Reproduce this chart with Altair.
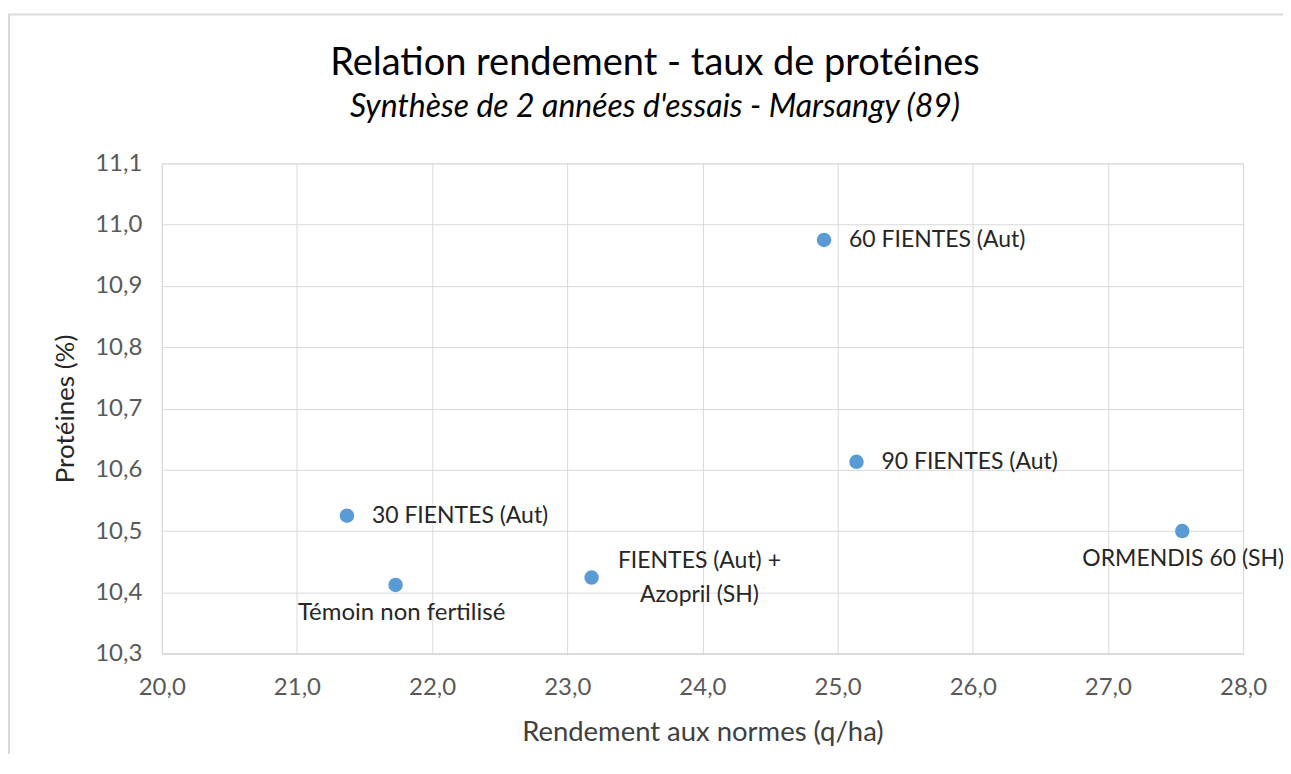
import altair as alt
import pandas as pd

names = ["60 FIENTES (Aut)", "90 FIENTES (Aut)", "30 FIENTES (Aut)",
         "Témoin non fertilisé", "FIENTES (Aut) +\nAzopril (SH)", "ORMENDIS 60 (SH)"]
rendement = [24.90, 25.14, 21.37, 21.73, 23.18, 27.55]
proteines = [10.975, 10.613, 10.525, 10.412, 10.424, 10.500]
position = ["right", "right", "right", "below", "right2", "below_edge"]

x_ticks = [20, 21, 22, 23, 24, 25, 26, 27, 28]
y_ticks = [10.3, 10.4, 10.5, 10.6, 10.7, 10.8, 10.9, 11.0, 11.1]

title_text = "Relation rendement - taux de protéines"
subtitle_text = "Synthèse de 2 années d'essais - Marsangy (89)"

df = pd.DataFrame({"name": names, "x": rendement, "y": proteines, "pos": position})
tdf = pd.DataFrame({"t": [title_text], "s": [subtitle_text]})

FONT = "Lato"
label_expr = "replace(format(datum.value, '.1f'), '.', ',')"

xenc = alt.X("x:Q", scale=alt.Scale(domain=[20, 28], nice=False, zero=False),
             axis=alt.Axis(values=x_ticks, labelExpr=label_expr, title="Rendement aux normes (q/ha)",
                           grid=True, gridColor="#d9d9d9", domain=True, domainColor="#d9d9d9",
                           domainWidth=1.5, ticks=False, labelPadding=22, labelFontSize=24,
                           labelFlush=False,
                           labelColor="#595959", labelFont=FONT, titleFont=FONT, titleFontSize=27.5,
                           titleFontWeight="normal", titleColor="#404040", titlePadding=19))
yenc = alt.Y("y:Q", scale=alt.Scale(domain=[10.3, 11.1], nice=False, zero=False),
             axis=alt.Axis(values=y_ticks, labelExpr=label_expr, title="Protéines (%)",
                           grid=True, gridColor="#d9d9d9", domain=False, ticks=False,
                           labelPadding=20, labelFontSize=24, labelColor="#595959", labelFlush=False,
                           labelFont=FONT, titleFont=FONT, titleFontSize=26,
                           titleFontWeight="normal", titleColor="#262626", titlePadding=16))

base = alt.Chart(df)

frame = alt.Chart(tdf).mark_rect(fill=None, stroke="#d9d9d9", strokeWidth=2, clip=False).encode(
    x=alt.value(-153), x2=alt.value(1300), y=alt.value(-149), y2=alt.value(700))

title = alt.Chart(tdf).mark_text(
    align="center", baseline="middle", fontSize=38, font=FONT, color="#000000"
).encode(x=alt.value(494), y=alt.value(-99), text="t:N")

subtitle = alt.Chart(tdf).mark_text(
    align="center", baseline="middle", fontSize=32, font=FONT, fontStyle="italic", color="#000000"
).encode(x=alt.value(494), y=alt.value(-56), text="s:N")

points = base.mark_circle(size=210, color="#5b9bd5", opacity=1).encode(x=xenc, y=yenc)

txt_right = base.transform_filter(alt.datum.pos == "right").mark_text(
    align="left", baseline="middle", dx=25, fontSize=23, font=FONT, color="#262626"
).encode(x="x:Q", y="y:Q", text="name:N")

txt_below = base.transform_filter(alt.datum.pos == "below").mark_text(
    align="center", baseline="middle", dx=6, dy=28, fontSize=24, font=FONT, color="#262626"
).encode(x="x:Q", y="y:Q", text="name:N")

txt_below_edge = base.transform_filter(alt.datum.pos == "below_edge").mark_text(
    align="center", baseline="middle", dx=1, dy=28, fontSize=23, font=FONT, color="#262626"
).encode(x="x:Q", y="y:Q", text="name:N")

txt_right2 = base.transform_filter(alt.datum.pos == "right2").mark_text(
    align="center", baseline="middle", dx=108, dy=-17, fontSize=23, font=FONT, color="#262626",
    lineBreak="\n", lineHeight=34
).encode(x="x:Q", y="y:Q", text="name:N")

chart = alt.layer(frame, title, subtitle, points, txt_right, txt_below, txt_below_edge,
                  txt_right2).properties(
    width=1083, height=491,
    autosize=alt.AutoSizeParams(type="none"),
    padding={"left": 154, "top": 155, "right": 40, "bottom": 100},
).configure_view(stroke=None).configure(background="white")

chart.save("out.html", embed_options={"renderer": "svg", "actions": False})
